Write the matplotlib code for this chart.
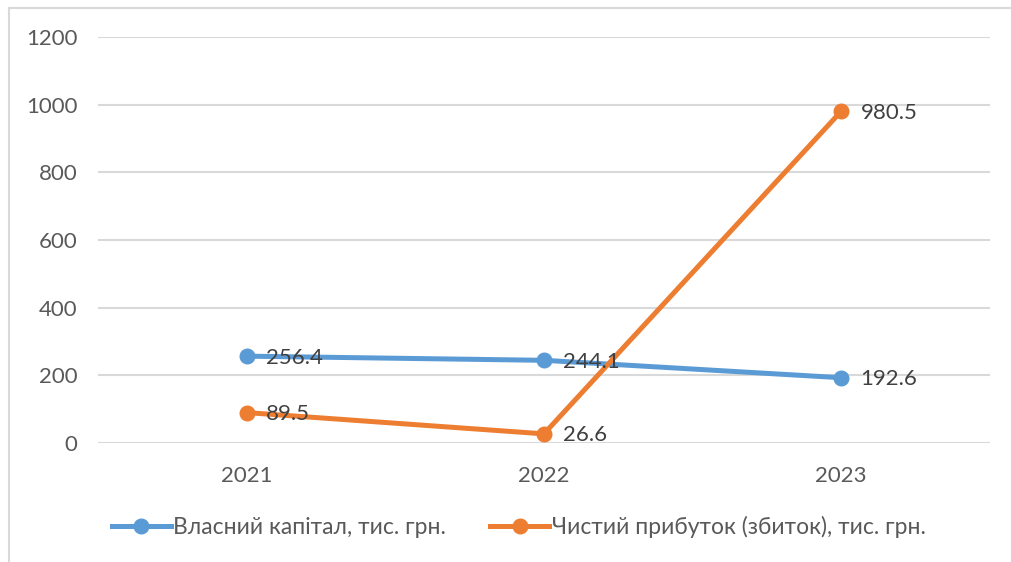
"""
Equity vs net profit line chart
"""
import matplotlib
matplotlib.use("Agg")
import matplotlib.pyplot as plt
from matplotlib.lines import Line2D

# data
years = ["2021", "2022", "2023"]
equity = [256.4, 244.1, 192.6]
net_profit = [89.5, 26.6, 980.5]
labels = ["Власний капітал, тис. грн.",
          "Чистий прибуток (збиток), тис. грн."]
y_ticks = [0, 200, 400, 600, 800, 1000, 1200]

plt.rcParams['font.family'] = ['Lato', 'Open Sans', 'DejaVu Sans']

BLUE = "#5B9BD5"
ORANGE = "#ED7D31"
GRID = "#D9D9D9"
TEXT = "#595959"

fig = plt.figure(figsize=(10.11, 5.62), dpi=100)
ax = fig.add_axes([0.097, 0.212, 0.882, 0.722])

x = list(range(len(years)))
ax.plot(x, equity, color=BLUE, lw=3.6, marker="o", ms=10.5,
        solid_capstyle="round", label=labels[0], zorder=3)
ax.plot(x, net_profit, color=ORANGE, lw=3.6, marker="o", ms=10.5,
        solid_capstyle="round", label=labels[1], zorder=3)

# data labels to the right of each point
for xi, v in zip(x, equity):
    ax.annotate(f"{v}", (xi, v), xytext=(14, -1), textcoords="offset points",
                va="center", ha="left", fontsize=16, color="#404040", zorder=4)
for xi, v in zip(x, net_profit):
    ax.annotate(f"{v}", (xi, v), xytext=(14, -1), textcoords="offset points",
                va="center", ha="left", fontsize=16, color="#404040", zorder=4)

ax.set_xlim(-0.5, 2.5)
ax.set_ylim(0, 1200)
ax.set_yticks(y_ticks)
ax.set_xticks(x)
ax.set_xticklabels(years)
ax.grid(axis="y", color=GRID, lw=1.5)
ax.set_axisbelow(True)
for s in ax.spines.values():
    s.set_visible(False)
ax.tick_params(length=0, labelsize=16, labelcolor=TEXT)
ax.tick_params(axis="y", pad=15)
ax.tick_params(axis="x", pad=17)

# legend
handles = [Line2D([], [], color=BLUE, lw=3.6, marker="o", ms=10.5),
           Line2D([], [], color=ORANGE, lw=3.6, marker="o", ms=10.5)]
fig.legend(handles, labels, loc="center", bbox_to_anchor=(0.513, 0.062),
           ncol=2, frameon=False, fontsize=16.5, labelcolor=TEXT,
           handlelength=2.6, handletextpad=0.1, columnspacing=1.9)

# chart-area border (left and top edges)
fig.add_artist(Line2D([0.009, 0.009], [0.0, 0.986], color=GRID, lw=1.5,
                      transform=fig.transFigure))
fig.add_artist(Line2D([0.009, 1.0], [0.986, 0.986], color=GRID, lw=1.5,
                      transform=fig.transFigure))

fig.savefig("out.png", dpi=100)
